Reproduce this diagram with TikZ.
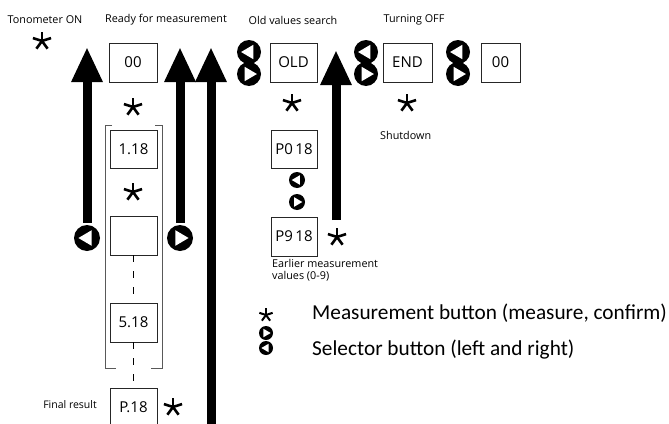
\documentclass[tikz,border=0pt]{standalone}
\usepackage{fontspec}
\setmainfont{Open Sans}
\newfontfamily\legendfont{Carlito}
\usetikzlibrary{arrows.meta}

% selector button: black disc with a white triangle; #4 = -1 (left) or 1 (right)
\newcommand\selbtn[4]{%
  \node[circle, fill=black, inner sep=0pt, minimum size={2*#3 pt}] (#1) at (#2) {};
  \fill[white, shift={(#1.center)}]
    ({0.66*#3*#4 pt},0pt) -- ({-0.36*#3*#4 pt},{0.6*#3 pt}) -- ({-0.36*#3*#4 pt},{-0.6*#3 pt}) -- cycle;
}

\tikzset{
  dispbox/.style={draw=black!85, line width=0.9pt, inner sep=0pt,
    minimum width=47pt, minimum height=39pt, font=\fontsize{15}{17}\selectfont},
  caption/.style={inner sep=0pt, font=\fontsize{10.8}{12}\selectfont},
  bigarrow/.style={line width=9pt, -{Triangle[width=29pt,length=35pt]}},
  brk/.style={draw=black!65, line width=0.9pt},
  seq/.style={line width=1pt, dash pattern=on 7pt off 9pt},
  astk/.pic={\foreach \a in {90,18,162,-54,-126} \draw[line width=2.6pt] (0pt,0pt) -- (\a:9.5pt);},
  astksmall/.pic={\foreach \a in {90,18,162,-54,-126} \draw[line width=2pt] (0pt,0pt) -- (\a:7pt);},
  legendtext/.style={anchor=west, inner sep=0pt, font=\legendfont\fontsize{21.3}{24}\selectfont},
}

\begin{document}
\begin{tikzpicture}[x=1pt, y=-1pt]
\useasboundingbox (0,0) rectangle (669,423);
\clip (0,0) rectangle (669,423);

% state captions
\node[caption] (capon)  at (45,20)  {Tonometer ON};
\node[caption] (capready) at (166,20) {Ready for measurement};
\node[caption] (capold) at (293,20) {Old values search};
\node[caption] (capoff) at (414,20) {Turning OFF};
\node[caption, anchor=west] (capshut) at (380,135) {Shutdown};
\node[caption, anchor=east, font=\fontsize{10.5}{12}\selectfont] (capfinal) at (97,405) {Final result};
\node[caption, anchor=north west, align=left] (capearly) at (272,259)
  {Earlier measurement\\values (0-9)};

% display boxes
\node[dispbox, minimum width=48pt] (b00) at (133,62.5) {00};
\node[dispbox, minimum height=38pt] (b118) at (133.5,149) {1.18};
\node[dispbox] (bemp) at (133.5,235.5) {};
\node[dispbox] (b518) at (133.5,322.5) {5.18};
\node[dispbox] (bp18) at (133.5,407.5) {P.18};
\node[dispbox] (bold) at (293.5,62.5) {OLD};
\node[dispbox, minimum width=49pt] (bend) at (407.5,62.5) {END};
\node[dispbox, minimum width=39pt] (b00r) at (500.5,62.5) {00};
\node[dispbox, minimum width=46pt, minimum height=38pt] (bp0) at (294,149) {P0\,18};
\node[dispbox, minimum width=46pt] (bp9) at (294,236.5) {P9\,18};

% bracket around the stored results
\draw[brk] (112,125) -- (105,125) -- (105,368) -- (116,368);
\draw[brk] (155,125) -- (162,125) -- (162,368) -- (151,368);

% dashed sequence
\draw[seq] (bemp.south) -- (b518.north);
\draw[seq] (b518.south) -- (bp18.north);

% measurement button marks
\pic at (42,41) {astk};
\pic at (133,107) {astk};
\pic at (133,192) {astk};
\pic at (173,407) {astk};
\pic at (292,103) {astk};
\pic at (407,103) {astk};
\pic at (337,237) {astk};

% selector buttons
\selbtn{lb}{87,238}{13}{-1}
\selbtn{rb}{180,238}{13}{1}
\selbtn{oldl}{249,52}{12}{-1}
\selbtn{oldr}{249,74}{12}{1}
\selbtn{endl}{366,52}{12}{-1}
\selbtn{endr}{366,74}{12}{1}
\selbtn{offl}{458,52}{12}{-1}
\selbtn{offr}{458,74}{12}{1}
\selbtn{pl}{297,180}{8}{-1}
\selbtn{pr}{297,202}{8}{1}

% transitions
\coordinate (t1) at (87,47);
\coordinate (t2) at (180,47);
\coordinate (t3) at (211,47);
\coordinate (s3) at (211,430);
\coordinate (t4) at (336,50);
\coordinate (s4) at (336,220);
\draw[bigarrow] ([yshift=2pt]lb.north) -- (t1);
\draw[bigarrow] ([yshift=2pt]rb.north) -- (t2);
\draw[bigarrow] (s3) -- (t3);
\draw[bigarrow] (s4) -- (t4);

% legend
\pic at (266,315) {astksmall};
\selbtn{legr}{266,333}{7}{1}
\selbtn{legl}{266,348}{7}{-1}
\node[legendtext] (legm) at (312,313) {Measurement button (measure, confirm)};
\node[legendtext] (legs) at (312,350) {Selector button (left and right)};
\end{tikzpicture}
\end{document}
